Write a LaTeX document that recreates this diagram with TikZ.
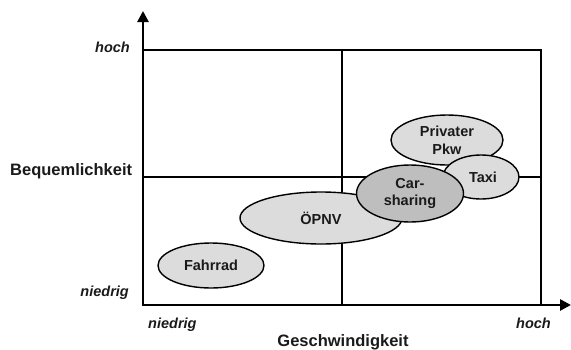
\documentclass[tikz,border=0pt]{standalone}
\usepackage{fontspec}
\setmainfont{Liberation Sans}
\usetikzlibrary{arrows.meta,shapes.geometric}
\definecolor{lightfill}{HTML}{DCDCDC}
\definecolor{darkfill}{HTML}{BEBEBE}
\definecolor{txt}{HTML}{1A1A1A}
\begin{document}
\begin{tikzpicture}[x=1pt,y=-1pt,
  axis/.style={line width=2.6pt,-{Triangle[length=11pt,width=11pt]}},
  grid/.style={line width=1.1pt},
  blob/.style={ellipse,draw=black,line width=1.4pt,fill=lightfill,inner sep=0pt,
    font=\fontsize{14.5}{17.5}\selectfont\bfseries,text=txt,align=center},
  blobdark/.style={blob,fill=darkfill},
  tick/.style={font=\fontsize{14.5}{17}\selectfont\bfseries\itshape,text=txt,inner sep=0pt},
  title/.style={font=\fontsize{16.5}{19}\selectfont\bfseries,text=txt,inner sep=0pt}]
\useasboundingbox (0,0) rectangle (571,349);
% quadrant grid
\coordinate (o) at (143,305);
\coordinate (tl) at (143,50);
\coordinate (tr) at (541,50);
\coordinate (br) at (541,305);
\coordinate (ml) at (143,177);
\coordinate (mr) at (541,177);
\coordinate (mt) at (342,50);
\coordinate (mb) at (342,305);
\coordinate (ytip) at (143,11);
\coordinate (xtip) at (571,305);
\draw[grid] (tl) -- (tr) -- (br);
\draw[grid] (ml) -- (mr);
\draw[grid] (mt) -- (mb);
% axes
\draw[axis] (o) -- (ytip);
\draw[axis] ([xshift=-1.3pt]o) -- (xtip);
% modes of transport
\node[blob,minimum width=112pt,minimum height=50pt] (pkw) at (447,140) {Privater\\Pkw};
\node[blob,minimum width=76pt,minimum height=44pt] (taxi) at (481,177) {\hspace*{4pt}Taxi};
\node[blob,minimum width=162pt,minimum height=52pt] (oepnv) at (321,218) {ÖPNV};
\node[blobdark,minimum width=107pt,minimum height=57pt] (cs) at (410,193.5) {Car-\\sharing};
\node[blob,minimum width=106pt,minimum height=45pt] (fahrrad) at (211,265.5) {Fahrrad};
% axis labels
\node[tick,anchor=base east] (yhi) at (130,52) {hoch};
\node[tick,anchor=base east] (ylo) at (129,296) {niedrig};
\node[tick,anchor=base west] (xlo) at (148,328) {niedrig};
\node[tick,anchor=base east] (xhi) at (551,328) {hoch};
\node[title,anchor=base west] (ytitle) at (10,175) {Bequemlichkeit};
\node[title,anchor=base] (xtitle) at (343,346) {Geschwindigkeit};
\end{tikzpicture}
\end{document}
